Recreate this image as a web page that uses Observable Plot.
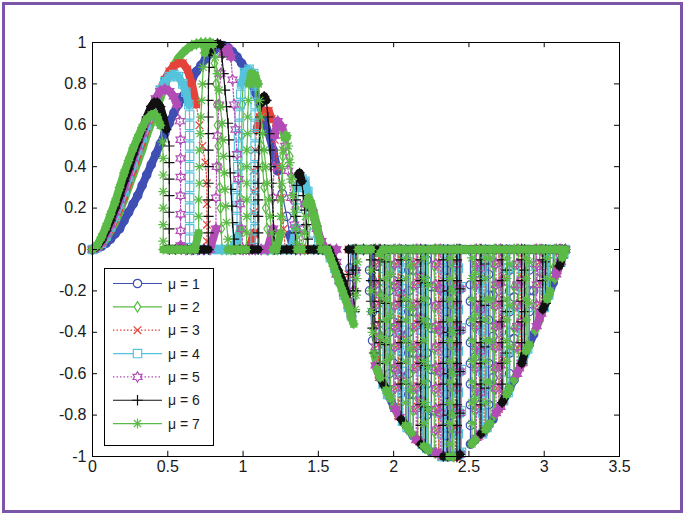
<!DOCTYPE html>
<html><head><meta charset="utf-8">
<script src="https://cdn.jsdelivr.net/npm/d3@7"></script>
<script src="https://cdn.jsdelivr.net/npm/@observablehq/plot@0.6"></script>
<style>
html,body{margin:0;padding:0;background:#fff;}
#wrap{position:relative;width:685px;height:515px;overflow:hidden;background:#fff;}
#border{position:absolute;left:2px;top:2px;width:681px;height:511px;box-sizing:border-box;border:3px solid #7b55a8;pointer-events:none;}
#chart svg{display:block;}
</style></head><body>
<div id="wrap"><div id="chart"></div><div id="border"></div></div>
<script>
const xTicks = [0, 0.5, 1, 1.5, 2, 2.5, 3, 3.5];
const yTicks = [-1, -0.8, -0.6, -0.4, -0.2, 0, 0.2, 0.4, 0.6, 0.8, 1];
const seriesLabels = ["μ = 1", "μ = 2", "μ = 3", "μ = 4", "μ = 5", "μ = 6", "μ = 7"];
const seriesColors = ["#3f4fb3", "#5cba47", "#e4433b", "#56c3dc", "#b24db6", "#111111", "#5cba47"];
const seriesDash = [null, null, "1.5,2", null, "1.5,2", null, null];

// μ = 1
const mu1Pos = [[0,0],[0.03,0.005],[0.06,0.015],[0.09,0.03],[0.12,0.05],[0.15,0.075],[0.18,0.1],[0.21,0.14],[0.24,0.18],[0.27,0.22],[0.3,0.26],[0.33,0.31],[0.36,0.36],[0.39,0.41],[0.42,0.46],[0.45,0.51],[0.48,0.56],[0.51,0.61],[0.54,0.66],[0.57,0.7],[0.6,0.74],[0.63,0.78],[0.66,0.82],[0.69,0.86],[0.72,0.89],[0.75,0.92],[0.78,0.945],[0.81,0.965],[0.84,0.978],[0.87,0.985],[0.9,0.975],[0.93,0.955],[0.96,0.93],[0.99,0.9],[1.02,0.87],[1.05,0.82],[1.08,0.76],[1.11,0.7],[1.14,0.63],[1.17,0.56],[1.2,0.48],[1.23,0.38],[1.26,0.27],[1.29,0.16],[1.31,0.07],[1.33,0.01]];
const mu1Neg = [[1.36,0],[1.4,0],[1.45,0],[1.5,0],[1.55,0],[1.58,-0.03],[1.61,-0.08],[1.64,-0.13],[1.67,-0.19],[1.7,-0.25],[1.71,-0.17],[1.71,-0.09],[1.72,0],[1.78,0],
[1.84,0],[1.84,-0.1],[1.84,-0.2],[1.86,-0.44],[1.86,-0.3],[1.86,-0.15],[1.86,0],
[1.97,0],[1.97,-0.1],[1.97,-0.2],[1.97,-0.3],[1.97,-0.4],[1.97,-0.5],[1.97,-0.6],[1.97,-0.71],[2,-0.76],[2,-0.55],[2,-0.35],[2,-0.15],[2,0],
[2.1,0],[2.1,-0.1],[2.1,-0.2],[2.1,-0.3],[2.1,-0.4],[2.1,-0.5],[2.1,-0.6],[2.1,-0.7],[2.1,-0.87],[2.13,-0.9],[2.13,-0.7],[2.13,-0.5],[2.13,-0.3],[2.13,-0.1],[2.13,0],
[2.22,0],[2.22,-0.05],[2.22,-0.15],[2.22,-0.25],[2.22,-0.35],[2.22,-0.5],[2.22,-0.65],[2.22,-0.8],[2.22,-0.96],[2.25,-0.98],[2.25,-0.78],[2.25,-0.58],[2.25,-0.38],[2.25,-0.18],[2.25,0],
[2.35,0],[2.35,-0.1],[2.35,-0.2],[2.35,-0.3],[2.35,-0.4],[2.35,-0.5],[2.35,-0.6],[2.35,-0.7],[2.35,-0.8],[2.35,-0.9],[2.35,-1],[2.38,-1],[2.38,-0.8],[2.38,-0.6],[2.38,-0.4],[2.38,-0.2],[2.38,0],
[2.51,0],[2.51,-0.17],[2.51,-0.25],[2.51,-0.35],[2.51,-0.45],[2.51,-0.55],[2.51,-0.65],[2.51,-0.75],[2.51,-0.85],[2.51,-0.94],[2.54,-0.92],[2.54,-0.72],[2.54,-0.52],[2.54,-0.32],[2.54,-0.12],[2.54,0],
[2.63,0],[2.63,-0.12],[2.63,-0.22],[2.63,-0.34],[2.63,-0.45],[2.63,-0.55],[2.63,-0.65],[2.63,-0.75],[2.63,-0.85],[2.66,-0.82],[2.66,-0.62],[2.66,-0.42],[2.66,-0.22],[2.66,0],
[2.77,0],[2.77,-0.1],[2.77,-0.2],[2.77,-0.3],[2.77,-0.4],[2.77,-0.5],[2.77,-0.6],[2.77,-0.67],[2.8,-0.63],[2.8,-0.43],[2.8,-0.23],[2.8,0],
[2.9,0],[2.9,-0.1],[2.9,-0.2],[2.9,-0.3],[2.9,-0.46],[2.93,-0.41],[2.93,-0.2],[2.93,0],
[3.03,0],[3.03,-0.1],[3.03,-0.22],[3.06,-0.16],[3.06,0],[3.1,0],[3.14,0]];

// μ = 2
const mu2Pos = [[0,0],[0.03,0.01],[0.06,0.025],[0.09,0.05],[0.12,0.09],[0.15,0.13],[0.18,0.18],[0.21,0.24],[0.24,0.3],[0.27,0.36],[0.3,0.42],[0.33,0.48],[0.36,0.55],[0.39,0.61],[0.42,0.67],[0.45,0.73],[0.48,0.79],[0.51,0.85],[0.54,0.89],[0.57,0.925],[0.6,0.95],[0.63,0.97],[0.66,0.985],[0.69,0.993],[0.72,0.997],[0.75,0.998],[0.78,0.997],[0.8,0.99],[0.81,0.9],[0.82,0.8],[0.825,0.7],[0.83,0.6],[0.835,0.5],[0.84,0.4],[0.845,0.3],[0.85,0.2],[0.855,0.1],[0.86,0],[0.89,0],[0.92,0],[0.95,0],[0.98,0.1],[0.98,0.25],[0.985,0.4],[0.99,0.55],[0.995,0.7],[1,0.82],[1.03,0.86],[1.06,0.84],[1.08,0.8],[1.1,0.7],[1.11,0.6],[1.12,0.5],[1.13,0.4],[1.14,0.3],[1.15,0.2],[1.16,0.1],[1.17,0],[1.2,0],[1.23,0],[1.26,0.15],[1.26,0.3],[1.265,0.45],[1.27,0.56],[1.29,0.54],[1.31,0.45],[1.33,0.33],[1.35,0.2],[1.37,0.08],[1.38,0],[1.41,0],[1.43,0.1],[1.44,0.2],[1.45,0.23],[1.47,0.18],[1.49,0.12],[1.51,0.05],[1.53,0]];
const mu2Neg = [[1.55,0],[1.58,-0.04],[1.61,-0.09],[1.64,-0.15],[1.67,-0.21],[1.7,-0.27],[1.72,-0.31],[1.73,-0.2],[1.74,-0.08],[1.74,0],[1.8,0],
[1.87,0],[1.87,-0.08],[1.87,-0.18],[1.87,-0.28],[1.87,-0.38],[1.87,-0.5],[1.9,-0.6],[1.9,-0.4],[1.9,-0.2],[1.9,0],
[2,0],[2,-0.08],[2,-0.18],[2,-0.28],[2,-0.38],[2,-0.48],[2,-0.58],[2,-0.68],[2,-0.76],[2.03,-0.8],[2.03,-0.6],[2.03,-0.4],[2.03,-0.2],[2.03,0],
[2.13,0],[2.13,-0.08],[2.13,-0.18],[2.13,-0.28],[2.13,-0.38],[2.13,-0.48],[2.13,-0.58],[2.13,-0.68],[2.13,-0.78],[2.13,-0.9],[2.16,-0.92],[2.16,-0.72],[2.16,-0.52],[2.16,-0.32],[2.16,-0.12],[2.16,0],
[2.27,0],[2.27,-0.08],[2.27,-0.18],[2.27,-0.28],[2.27,-0.38],[2.27,-0.48],[2.27,-0.58],[2.27,-0.68],[2.27,-0.78],[2.27,-0.88],[2.27,-0.98],[2.3,-0.99],[2.3,-0.79],[2.3,-0.59],[2.3,-0.39],[2.3,-0.19],[2.3,0],
[2.4,0],[2.4,-0.08],[2.4,-0.18],[2.4,-0.28],[2.4,-0.38],[2.4,-0.48],[2.4,-0.58],[2.4,-0.68],[2.4,-0.78],[2.4,-0.88],[2.4,-1],[2.43,-0.99],[2.43,-0.79],[2.43,-0.59],[2.43,-0.39],[2.43,-0.19],[2.43,0],
[2.54,0],[2.54,-0.08],[2.54,-0.18],[2.54,-0.28],[2.54,-0.38],[2.54,-0.48],[2.54,-0.58],[2.54,-0.68],[2.54,-0.78],[2.54,-0.92],[2.57,-0.9],[2.57,-0.7],[2.57,-0.5],[2.57,-0.3],[2.57,-0.1],[2.57,0],
[2.67,0],[2.67,-0.08],[2.67,-0.18],[2.67,-0.28],[2.67,-0.38],[2.67,-0.48],[2.67,-0.58],[2.67,-0.68],[2.67,-0.8],[2.7,-0.77],[2.7,-0.57],[2.7,-0.37],[2.7,-0.17],[2.7,0],
[2.8,0],[2.8,-0.08],[2.8,-0.18],[2.8,-0.28],[2.8,-0.38],[2.8,-0.48],[2.8,-0.63],[2.83,-0.58],[2.83,-0.38],[2.83,-0.18],[2.83,0],
[2.94,0],[2.94,-0.08],[2.94,-0.18],[2.94,-0.28],[2.94,-0.39],[2.97,-0.34],[2.97,-0.14],[2.97,0],
[3.07,0],[3.07,-0.08],[3.07,-0.14],[3.1,-0.08],[3.1,0],[3.14,0]];

// μ = 3
const mu3Pos = [[0,0],[0.03,0.01],[0.06,0.03],[0.09,0.06],[0.12,0.1],[0.15,0.15],[0.18,0.2],[0.21,0.26],[0.24,0.33],[0.27,0.39],[0.3,0.46],[0.33,0.52],[0.36,0.59],[0.39,0.65],[0.42,0.71],[0.45,0.77],[0.48,0.82],[0.51,0.86],[0.54,0.885],[0.57,0.9],[0.6,0.9],[0.63,0.87],[0.66,0.8],[0.69,0.7],[0.71,0.6],[0.73,0.5],[0.75,0.42],[0.76,0.32],[0.76,0.22],[0.76,0.12],[0.76,0.04],[0.76,0],[0.8,0],[0.84,0],[0.88,0],[0.92,0],[0.96,0],[1,0],[1.04,0],[1.07,0.08],[1.07,0.18],[1.07,0.28],[1.07,0.38],[1.08,0.48],[1.09,0.58],[1.11,0.64],[1.14,0.67],[1.17,0.67],[1.19,0.63],[1.21,0.53],[1.23,0.4],[1.25,0.25],[1.27,0.1],[1.28,0],[1.32,0],[1.36,0],[1.4,0],[1.45,0],[1.5,0]];
const mu3Neg = [[1.55,0],[1.58,-0.03],[1.61,-0.08],[1.64,-0.14],[1.67,-0.2],[1.69,-0.24],[1.7,-0.12],[1.7,0],[1.8,0],
[1.9,0],[1.9,-0.06],[1.9,-0.16],[1.9,-0.26],[1.9,-0.36],[1.9,-0.46],[1.9,-0.6],[1.93,-0.65],[1.93,-0.45],[1.93,-0.25],[1.93,-0.05],[1.93,0],
[2.03,0],[2.03,-0.06],[2.03,-0.16],[2.03,-0.26],[2.03,-0.36],[2.03,-0.46],[2.03,-0.56],[2.03,-0.66],[2.03,-0.8],[2.06,-0.83],[2.06,-0.63],[2.06,-0.43],[2.06,-0.23],[2.06,0],
[2.16,0],[2.16,-0.06],[2.16,-0.16],[2.16,-0.26],[2.16,-0.36],[2.16,-0.46],[2.16,-0.56],[2.16,-0.66],[2.16,-0.76],[2.16,-0.92],[2.19,-0.94],[2.19,-0.74],[2.19,-0.54],[2.19,-0.34],[2.19,-0.14],[2.19,0],
[2.3,0],[2.3,-0.06],[2.3,-0.16],[2.3,-0.26],[2.3,-0.36],[2.3,-0.46],[2.3,-0.56],[2.3,-0.66],[2.3,-0.76],[2.3,-0.86],[2.3,-0.99],[2.32,-1],[2.32,-0.8],[2.32,-0.6],[2.32,-0.4],[2.32,-0.2],[2.32,0],
[2.41,0],[2.41,-0.06],[2.41,-0.16],[2.41,-0.26],[2.41,-0.36],[2.41,-0.46],[2.41,-0.56],[2.41,-0.66],[2.41,-0.76],[2.41,-0.86],[2.41,-1],[2.44,-0.99],[2.44,-0.79],[2.44,-0.59],[2.44,-0.39],[2.44,-0.19],[2.44,0],
[2.57,0],[2.57,-0.06],[2.57,-0.16],[2.57,-0.26],[2.57,-0.36],[2.57,-0.46],[2.57,-0.56],[2.57,-0.66],[2.57,-0.76],[2.57,-0.9],[2.6,-0.88],[2.6,-0.68],[2.6,-0.48],[2.6,-0.28],[2.6,-0.08],[2.6,0],
[2.7,0],[2.7,-0.06],[2.7,-0.16],[2.7,-0.26],[2.7,-0.36],[2.7,-0.46],[2.7,-0.56],[2.7,-0.66],[2.7,-0.77],[2.73,-0.73],[2.73,-0.53],[2.73,-0.33],[2.73,-0.13],[2.73,0],
[2.84,0],[2.84,-0.06],[2.84,-0.16],[2.84,-0.26],[2.84,-0.36],[2.84,-0.46],[2.84,-0.57],[2.86,-0.54],[2.86,-0.34],[2.86,-0.14],[2.86,0],
[2.97,0],[2.97,-0.06],[2.97,-0.16],[2.97,-0.26],[2.97,-0.33],[3,-0.28],[3,-0.08],[3,0],
[3.09,0],[3.09,-0.1],[3.11,-0.06],[3.11,0],[3.14,0]];

// μ = 4
const mu4Pos = [[0,0],[0.03,0.01],[0.06,0.03],[0.09,0.065],[0.12,0.11],[0.15,0.16],[0.18,0.22],[0.21,0.28],[0.24,0.35],[0.27,0.41],[0.3,0.48],[0.33,0.54],[0.36,0.6],[0.39,0.66],[0.42,0.72],[0.45,0.77],[0.48,0.81],[0.51,0.835],[0.54,0.845],[0.57,0.835],[0.6,0.8],[0.62,0.76],[0.64,0.7],[0.645,0.65],[0.645,0.6],[0.645,0.55],[0.645,0.5],[0.645,0.45],[0.645,0.4],[0.645,0.35],[0.645,0.3],[0.645,0.25],[0.645,0.2],[0.645,0.15],[0.645,0.1],[0.645,0.05],[0.645,0],[0.68,0],[0.72,0],[0.76,0],[0.8,0],[0.84,0],[0.88,0],[0.92,0],[0.96,0.05],[0.96,0.1],[0.96,0.15],[0.96,0.2],[0.96,0.25],[0.96,0.3],[0.965,0.35],[0.965,0.4],[0.965,0.45],[0.97,0.5],[0.97,0.55],[0.975,0.6],[0.975,0.65],[0.98,0.7],[0.985,0.75],[0.99,0.8],[1.01,0.855],[1.04,0.87],[1.07,0.85],[1.08,0.8],[1.08,0.75],[1.08,0.7],[1.08,0.65],[1.08,0.6],[1.08,0.55],[1.08,0.5],[1.08,0.45],[1.08,0.4],[1.08,0.35],[1.08,0.3],[1.08,0.25],[1.08,0.2],[1.08,0.15],[1.08,0.1],[1.08,0.05],[1.08,0],[1.12,0],[1.16,0],[1.2,0],[1.24,0],[1.28,0],[1.32,0],[1.35,0.1],[1.36,0.2],[1.37,0.3],[1.39,0.34],[1.41,0.33],[1.43,0.28],[1.45,0.18],[1.47,0.08],[1.48,0],[1.52,0]];
const mu4Neg = [[1.55,0],[1.58,-0.04],[1.61,-0.09],[1.64,-0.15],[1.67,-0.22],[1.7,-0.28],[1.72,-0.32],[1.73,-0.22],[1.74,-0.1],[1.74,0],[1.8,0],
[1.93,0],[1.93,-0.09],[1.93,-0.19],[1.93,-0.29],[1.93,-0.39],[1.93,-0.49],[1.93,-0.65],[1.96,-0.7],[1.96,-0.5],[1.96,-0.3],[1.96,-0.1],[1.96,0],
[2.06,0],[2.06,-0.09],[2.06,-0.19],[2.06,-0.29],[2.06,-0.39],[2.06,-0.49],[2.06,-0.59],[2.06,-0.69],[2.06,-0.83],[2.09,-0.86],[2.09,-0.66],[2.09,-0.46],[2.09,-0.26],[2.09,-0.06],[2.09,0],
[2.19,0],[2.19,-0.09],[2.19,-0.19],[2.19,-0.29],[2.19,-0.39],[2.19,-0.49],[2.19,-0.59],[2.19,-0.69],[2.19,-0.79],[2.19,-0.94],[2.22,-0.96],[2.22,-0.76],[2.22,-0.56],[2.22,-0.36],[2.22,-0.16],[2.22,0],
[2.32,0],[2.32,-0.09],[2.32,-0.19],[2.32,-0.29],[2.32,-0.39],[2.32,-0.49],[2.32,-0.59],[2.32,-0.69],[2.32,-0.79],[2.32,-0.89],[2.32,-1],[2.34,-1],[2.34,-0.8],[2.34,-0.6],[2.34,-0.4],[2.34,-0.2],[2.34,0],
[2.43,0],[2.43,-0.09],[2.43,-0.19],[2.43,-0.29],[2.43,-0.39],[2.43,-0.49],[2.43,-0.59],[2.43,-0.69],[2.43,-0.79],[2.43,-0.89],[2.43,-0.99],[2.45,-0.98],[2.45,-0.78],[2.45,-0.58],[2.45,-0.38],[2.45,-0.18],[2.45,0],
[2.59,0],[2.59,-0.09],[2.59,-0.19],[2.59,-0.29],[2.59,-0.39],[2.59,-0.49],[2.59,-0.59],[2.59,-0.69],[2.59,-0.79],[2.59,-0.89],[2.62,-0.86],[2.62,-0.66],[2.62,-0.46],[2.62,-0.26],[2.62,-0.06],[2.62,0],
[2.73,0],[2.73,-0.09],[2.73,-0.19],[2.73,-0.29],[2.73,-0.39],[2.73,-0.49],[2.73,-0.59],[2.73,-0.73],[2.76,-0.69],[2.76,-0.49],[2.76,-0.29],[2.76,-0.09],[2.76,0],
[2.86,0],[2.86,-0.09],[2.86,-0.19],[2.86,-0.29],[2.86,-0.39],[2.86,-0.54],[2.89,-0.48],[2.89,-0.28],[2.89,-0.08],[2.89,0],
[3,0],[3,-0.09],[3,-0.19],[3,-0.28],[3.03,-0.22],[3.03,-0.02],[3.03,0],
[3.11,0],[3.11,-0.06],[3.13,-0.02],[3.14,0]];

// μ = 5
const mu5Pos = [[0,0],[0.03,0.01],[0.06,0.035],[0.09,0.075],[0.12,0.12],[0.15,0.18],[0.18,0.24],[0.21,0.3],[0.24,0.37],[0.27,0.44],[0.3,0.5],[0.33,0.56],[0.36,0.62],[0.39,0.68],[0.42,0.73],[0.45,0.765],[0.48,0.775],[0.51,0.765],[0.54,0.74],[0.56,0.7],[0.58,0.62],[0.585,0.53],[0.585,0.44],[0.585,0.35],[0.585,0.26],[0.585,0.17],[0.585,0.09],[0.585,0.02],[0.62,0],[0.66,0],[0.7,0],[0.74,0],[0.78,0],[0.82,0.1],[0.82,0.25],[0.825,0.4],[0.83,0.55],[0.84,0.7],[0.85,0.85],[0.87,0.95],[0.9,0.97],[0.92,0.93],[0.93,0.82],[0.94,0.7],[0.95,0.58],[0.96,0.46],[0.97,0.34],[0.98,0.22],[0.99,0.1],[1,0],[1.04,0],[1.08,0],[1.12,0],[1.16,0],[1.2,0.1],[1.2,0.25],[1.205,0.4],[1.21,0.55],[1.23,0.62],[1.26,0.59],[1.28,0.5],[1.3,0.38],[1.32,0.25],[1.34,0.12],[1.35,0],[1.38,0],[1.4,0.1],[1.41,0.22],[1.43,0.24],[1.46,0.18],[1.49,0.1],[1.52,0.04],[1.55,0]];
const mu5Neg = [[1.58,0],[1.62,0],[1.62,-0.06],[1.62,-0.12],[1.64,-0.15],[1.67,-0.21],[1.7,-0.27],[1.72,-0.31],[1.735,-0.2],[1.745,-0.1],[1.75,0],[1.8,0],
[1.88,0],[1.88,-0.07],[1.88,-0.17],[1.88,-0.27],[1.88,-0.37],[1.88,-0.47],[1.88,-0.56],[1.91,-0.62],[1.91,-0.42],[1.91,-0.22],[1.91,-0.02],[1.91,0],
[2.01,0],[2.01,-0.07],[2.01,-0.17],[2.01,-0.27],[2.01,-0.37],[2.01,-0.47],[2.01,-0.57],[2.01,-0.67],[2.01,-0.77],[2.04,-0.81],[2.04,-0.61],[2.04,-0.41],[2.04,-0.21],[2.04,0],
[2.15,0],[2.15,-0.07],[2.15,-0.17],[2.15,-0.27],[2.15,-0.37],[2.15,-0.47],[2.15,-0.57],[2.15,-0.67],[2.15,-0.77],[2.15,-0.92],[2.18,-0.93],[2.18,-0.73],[2.18,-0.53],[2.18,-0.33],[2.18,-0.13],[2.18,0],
[2.28,0],[2.28,-0.07],[2.28,-0.17],[2.28,-0.27],[2.28,-0.37],[2.28,-0.47],[2.28,-0.57],[2.28,-0.67],[2.28,-0.77],[2.28,-0.87],[2.28,-0.98],[2.31,-0.99],[2.31,-0.79],[2.31,-0.59],[2.31,-0.39],[2.31,-0.19],[2.31,0],
[2.42,0],[2.42,-0.07],[2.42,-0.17],[2.42,-0.27],[2.42,-0.37],[2.42,-0.47],[2.42,-0.57],[2.42,-0.67],[2.42,-0.77],[2.42,-0.87],[2.42,-1],[2.44,-0.99],[2.44,-0.79],[2.44,-0.59],[2.44,-0.39],[2.44,-0.19],[2.44,0],
[2.55,0],[2.55,-0.07],[2.55,-0.17],[2.55,-0.27],[2.55,-0.37],[2.55,-0.47],[2.55,-0.57],[2.55,-0.67],[2.55,-0.77],[2.55,-0.91],[2.58,-0.89],[2.58,-0.69],[2.58,-0.49],[2.58,-0.29],[2.58,-0.09],[2.58,0],
[2.68,0],[2.68,-0.07],[2.68,-0.17],[2.68,-0.27],[2.68,-0.37],[2.68,-0.47],[2.68,-0.57],[2.68,-0.67],[2.68,-0.79],[2.71,-0.76],[2.71,-0.56],[2.71,-0.36],[2.71,-0.16],[2.71,0],
[2.82,0],[2.82,-0.07],[2.82,-0.17],[2.82,-0.27],[2.82,-0.37],[2.82,-0.47],[2.82,-0.6],[2.85,-0.55],[2.85,-0.35],[2.85,-0.15],[2.85,0],
[2.95,0],[2.95,-0.07],[2.95,-0.17],[2.95,-0.27],[2.95,-0.37],[2.98,-0.31],[2.98,-0.11],[2.98,0],
[3.08,0],[3.08,-0.12],[3.11,-0.06],[3.11,0],[3.14,0]];

// μ = 6
const mu6Pos = [[0,0],[0.03,0.015],[0.06,0.045],[0.09,0.09],[0.12,0.14],[0.15,0.2],[0.18,0.26],[0.21,0.33],[0.24,0.39],[0.27,0.46],[0.3,0.52],[0.33,0.58],[0.36,0.64],[0.39,0.69],[0.41,0.71],[0.43,0.71],[0.45,0.69],[0.47,0.64],[0.49,0.58],[0.51,0.5],[0.51,0.42],[0.51,0.34],[0.51,0.26],[0.51,0.18],[0.51,0.1],[0.51,0.02],[0.51,0],[0.55,0],[0.59,0],[0.63,0],[0.67,0],[0.71,0],[0.74,0],[0.77,0],[0.77,0.08],[0.77,0.16],[0.77,0.24],[0.77,0.32],[0.77,0.4],[0.77,0.48],[0.77,0.56],[0.77,0.64],[0.77,0.72],[0.77,0.8],[0.775,0.88],[0.78,0.95],[0.8,0.99],[0.83,0.995],[0.85,0.99],[0.86,0.93],[0.87,0.85],[0.88,0.77],[0.89,0.69],[0.9,0.61],[0.905,0.53],[0.91,0.45],[0.915,0.37],[0.92,0.29],[0.925,0.21],[0.93,0.13],[0.94,0.05],[0.94,0],[0.98,0],[1.02,0],[1.06,0],[1.1,0],[1.1,0.08],[1.1,0.16],[1.1,0.24],[1.1,0.32],[1.1,0.4],[1.105,0.48],[1.11,0.56],[1.115,0.64],[1.125,0.71],[1.14,0.74],[1.155,0.72],[1.165,0.64],[1.175,0.56],[1.18,0.48],[1.185,0.4],[1.19,0.32],[1.195,0.24],[1.2,0.16],[1.205,0.08],[1.21,0],[1.25,0],[1.29,0],[1.32,0],[1.35,0],[1.35,0.08],[1.35,0.16],[1.35,0.24],[1.355,0.31],[1.365,0.36],[1.375,0.37],[1.39,0.33],[1.4,0.26],[1.41,0.19],[1.42,0.12],[1.43,0.05],[1.43,0],[1.47,0],[1.5,0]];
const mu6Neg = [[1.53,0],[1.57,0],[1.6,-0.05],[1.63,-0.1],[1.66,-0.15],[1.69,-0.22],[1.7,-0.12],[1.7,0],[1.73,0],[1.73,-0.1],[1.73,-0.2],[1.74,-0.3],[1.75,-0.2],[1.75,-0.1],[1.75,0],[1.8,0],
[1.85,0],[1.85,-0.05],[1.85,-0.15],[1.85,-0.25],[1.86,-0.38],[1.87,-0.5],[1.87,-0.3],[1.87,-0.1],[1.87,0],
[1.91,0],[1.91,-0.05],[1.91,-0.15],[1.91,-0.25],[1.91,-0.35],[1.91,-0.45],[1.91,-0.55],[1.91,-0.62],[1.94,-0.66],[1.94,-0.46],[1.94,-0.26],[1.94,-0.06],[1.94,0],
[2.05,0],[2.05,-0.05],[2.05,-0.15],[2.05,-0.25],[2.05,-0.35],[2.05,-0.45],[2.05,-0.55],[2.05,-0.65],[2.05,-0.82],[2.08,-0.85],[2.08,-0.65],[2.08,-0.45],[2.08,-0.25],[2.08,-0.05],[2.08,0],
[2.18,0],[2.18,-0.05],[2.18,-0.15],[2.18,-0.25],[2.18,-0.35],[2.18,-0.45],[2.18,-0.55],[2.18,-0.65],[2.18,-0.75],[2.18,-0.85],[2.18,-0.94],[2.21,-0.96],[2.21,-0.76],[2.21,-0.56],[2.21,-0.36],[2.21,-0.16],[2.21,0],
[2.33,0],[2.33,-0.05],[2.33,-0.15],[2.33,-0.25],[2.33,-0.35],[2.33,-0.45],[2.33,-0.55],[2.33,-0.65],[2.33,-0.75],[2.33,-0.85],[2.33,-1],[2.36,-1],[2.36,-0.8],[2.36,-0.6],[2.36,-0.4],[2.36,-0.2],[2.36,0],
[2.42,0],[2.42,-0.05],[2.42,-0.15],[2.42,-0.25],[2.42,-0.35],[2.42,-0.45],[2.42,-0.55],[2.42,-0.65],[2.42,-0.75],[2.42,-0.85],[2.42,-1],[2.44,-0.99],[2.44,-0.79],[2.44,-0.59],[2.44,-0.39],[2.44,-0.19],[2.44,0],
[2.58,0],[2.58,-0.05],[2.58,-0.15],[2.58,-0.25],[2.58,-0.35],[2.58,-0.45],[2.58,-0.55],[2.58,-0.65],[2.58,-0.75],[2.58,-0.89],[2.61,-0.87],[2.61,-0.67],[2.61,-0.47],[2.61,-0.27],[2.61,-0.07],[2.61,0],
[2.72,0],[2.72,-0.05],[2.72,-0.15],[2.72,-0.25],[2.72,-0.35],[2.72,-0.45],[2.72,-0.55],[2.72,-0.65],[2.72,-0.74],[2.75,-0.7],[2.75,-0.5],[2.75,-0.3],[2.75,-0.1],[2.75,0],
[2.85,0],[2.85,-0.05],[2.85,-0.15],[2.85,-0.25],[2.85,-0.35],[2.85,-0.45],[2.85,-0.55],[2.87,-0.5],[2.87,-0.3],[2.87,-0.1],[2.87,0],
[2.99,0],[2.99,-0.05],[2.99,-0.15],[2.99,-0.29],[3.01,-0.26],[3.01,-0.06],[3.01,0],
[3.1,0],[3.1,-0.08],[3.12,-0.04],[3.12,0],[3.14,0]];

// μ = 7
const mu7Pos = [[0,0],[0.03,0.02],[0.06,0.06],[0.09,0.11],[0.12,0.17],[0.15,0.23],[0.18,0.3],[0.21,0.37],[0.24,0.43],[0.27,0.49],[0.3,0.54],[0.33,0.59],[0.36,0.63],[0.39,0.65],[0.41,0.655],[0.43,0.64],[0.45,0.6],[0.465,0.52],[0.47,0.44],[0.47,0.36],[0.47,0.28],[0.47,0.2],[0.47,0.12],[0.47,0.04],[0.47,0],[0.5,0],[0.53,0],[0.56,0],[0.59,0],[0.62,0],[0.65,0],[0.68,0],[0.705,0.08],[0.705,0.16],[0.705,0.24],[0.71,0.32],[0.71,0.4],[0.71,0.48],[0.715,0.56],[0.72,0.64],[0.725,0.72],[0.73,0.8],[0.735,0.88],[0.745,0.95],[0.76,0.99],[0.78,1],[0.8,0.99],[0.815,0.93],[0.83,0.85],[0.84,0.77],[0.85,0.69],[0.86,0.61],[0.865,0.53],[0.87,0.45],[0.875,0.37],[0.88,0.29],[0.885,0.21],[0.89,0.13],[0.9,0.05],[0.9,0],[0.93,0],[0.96,0],[0.99,0],[1.02,0],[1.025,0.08],[1.025,0.16],[1.025,0.24],[1.025,0.32],[1.025,0.4],[1.025,0.48],[1.03,0.56],[1.03,0.64],[1.035,0.72],[1.04,0.8],[1.055,0.85],[1.08,0.84],[1.1,0.8],[1.11,0.72],[1.12,0.64],[1.13,0.56],[1.14,0.48],[1.15,0.4],[1.16,0.32],[1.17,0.24],[1.18,0.16],[1.19,0.08],[1.2,0],[1.22,0],[1.25,0.08],[1.25,0.16],[1.25,0.24],[1.255,0.32],[1.26,0.4],[1.265,0.48],[1.275,0.54],[1.29,0.55],[1.3,0.5],[1.31,0.42],[1.32,0.34],[1.33,0.26],[1.34,0.18],[1.35,0.1],[1.36,0.03],[1.36,0],[1.39,0],[1.41,0.08],[1.415,0.16],[1.42,0.22],[1.435,0.25],[1.45,0.22],[1.47,0.16],[1.49,0.1],[1.51,0.04],[1.52,0]];
const mu7Neg = [[1.54,0],[1.56,0],[1.58,-0.04],[1.6,-0.08],[1.62,-0.12],[1.64,-0.16],[1.66,-0.2],[1.68,-0.24],[1.7,-0.28],[1.72,-0.33],[1.735,-0.36],[1.745,-0.29],[1.75,-0.22],[1.755,-0.14],[1.76,-0.06],[1.765,0],[1.79,0],[1.82,0],
[1.85,0],[1.85,-0.1],[1.85,-0.2],[1.85,-0.3],[1.86,-0.4],[1.87,-0.5],[1.89,-0.58],[1.91,-0.62],[1.91,-0.42],[1.91,-0.22],[1.91,-0.02],[1.93,0],
[1.95,0],[1.95,-0.04],[1.95,-0.14],[1.95,-0.24],[1.95,-0.34],[1.95,-0.44],[1.95,-0.54],[1.95,-0.68],[1.98,-0.72],[1.98,-0.52],[1.98,-0.32],[1.98,-0.12],[1.98,0],[2.01,0],[2.04,0],
[2.08,0],[2.08,-0.04],[2.08,-0.14],[2.08,-0.24],[2.08,-0.34],[2.08,-0.44],[2.08,-0.54],[2.08,-0.64],[2.08,-0.74],[2.08,-0.85],[2.11,-0.88],[2.11,-0.68],[2.11,-0.48],[2.11,-0.28],[2.11,-0.08],[2.11,0],[2.14,0],[2.17,0],
[2.2,0],[2.2,-0.04],[2.2,-0.14],[2.2,-0.24],[2.2,-0.34],[2.2,-0.44],[2.2,-0.54],[2.2,-0.64],[2.2,-0.74],[2.2,-0.84],[2.2,-0.95],[2.23,-0.97],[2.23,-0.77],[2.23,-0.57],[2.23,-0.37],[2.23,-0.17],[2.23,0],[2.26,0],[2.29,0],[2.32,0],
[2.37,0],[2.37,-0.04],[2.37,-0.14],[2.37,-0.24],[2.37,-0.34],[2.37,-0.44],[2.37,-0.54],[2.37,-0.64],[2.37,-0.74],[2.37,-0.84],[2.37,-0.94],[2.37,-1],[2.39,-1],[2.39,-0.8],[2.39,-0.6],[2.39,-0.4],[2.39,-0.2],[2.39,0],[2.42,0],[2.45,0],[2.48,0],
[2.52,0],[2.52,-0.04],[2.52,-0.14],[2.52,-0.24],[2.52,-0.34],[2.52,-0.44],[2.52,-0.54],[2.52,-0.64],[2.52,-0.74],[2.52,-0.84],[2.52,-0.94],[2.54,-0.92],[2.54,-0.72],[2.54,-0.52],[2.54,-0.32],[2.54,-0.12],[2.54,0],[2.57,0],
[2.61,0],[2.61,-0.04],[2.61,-0.14],[2.61,-0.24],[2.61,-0.34],[2.61,-0.44],[2.61,-0.54],[2.61,-0.64],[2.61,-0.74],[2.61,-0.87],[2.64,-0.84],[2.64,-0.64],[2.64,-0.44],[2.64,-0.24],[2.64,-0.04],[2.64,0],[2.67,0],[2.7,0],
[2.75,0],[2.75,-0.04],[2.75,-0.14],[2.75,-0.24],[2.75,-0.34],[2.75,-0.44],[2.75,-0.54],[2.75,-0.7],[2.77,-0.67],[2.77,-0.47],[2.77,-0.27],[2.77,-0.07],[2.77,0],[2.8,0],[2.83,0],
[2.88,0],[2.88,-0.04],[2.88,-0.14],[2.88,-0.24],[2.88,-0.34],[2.88,-0.49],[2.9,-0.46],[2.9,-0.26],[2.9,-0.06],[2.9,0],[2.93,0],[2.96,0],[2.99,0],
[3.02,0],[3.02,-0.04],[3.02,-0.14],[3.02,-0.24],[3.04,-0.2],[3.04,0],[3.07,0],[3.1,0],
[3.12,0],[3.12,-0.04],[3.13,-0.02],[3.14,0]];

const seriesData = [
  mu1Pos.concat(mu1Neg), mu2Pos.concat(mu2Neg), mu3Pos.concat(mu3Neg),
  mu4Pos.concat(mu4Neg), mu5Pos.concat(mu5Neg), mu6Pos.concat(mu6Neg), mu7Pos.concat(mu7Neg)
];

// Gently sloped stretches of each curve are so densely sampled that their markers
// merge into a solid band; steep stretches show as stacked single markers.
const steepLimit = 3.6; // slope (data units) above which a stretch is drawn as a stem
function bandSegments(data) {
  const segs = [];
  for (let k = 1; k < data.length; k++) {
    const a = data[k - 1], b = data[k];
    if (Math.abs(b[1] - a[1]) < steepLimit * Math.abs(b[0] - a[0])) segs.push({x1: a[0], y1: a[1], x2: b[0], y2: b[1]});
  }
  return segs;
}

// MATLAB-like marker shapes
const TAU = 2 * Math.PI;
const symCircle = {draw(c) { c.moveTo(4.2, 0); c.arc(0, 0, 4.2, 0, TAU); }};
const symDiamond = {draw(c) { c.moveTo(0, -5.2); c.lineTo(3.3, 0); c.lineTo(0, 5.2); c.lineTo(-3.3, 0); c.closePath(); }};
const symTimes = {draw(c) { const r = 3.8; c.moveTo(-r, -r); c.lineTo(r, r); c.moveTo(-r, r); c.lineTo(r, -r); }};
const symSquare = {draw(c) { c.rect(-4.2, -4.2, 8.4, 8.4); }};
const symHexagram = {draw(c) {
  for (let i = 0; i < 12; i++) {
    const a = i * Math.PI / 6 - Math.PI / 2, rr = i % 2 ? 3 : 5.2;
    const px = rr * Math.cos(a), py = rr * Math.sin(a);
    if (i) c.lineTo(px, py); else c.moveTo(px, py);
  }
  c.closePath();
}};
const symPlus = {draw(c) { const r = 5.2; c.moveTo(-r, 0); c.lineTo(r, 0); c.moveTo(0, -r); c.lineTo(0, r); }};
const symAsterisk = {draw(c) {
  const r = 5, d = 3.6;
  c.moveTo(-r, 0); c.lineTo(r, 0); c.moveTo(0, -r); c.lineTo(0, r);
  c.moveTo(-d, -d); c.lineTo(d, d); c.moveTo(-d, d); c.lineTo(d, -d);
}};
const seriesSymbols = [symCircle, symDiamond, symTimes, symSquare, symHexagram, symPlus, symAsterisk];

const seriesMarks = [];
seriesData.forEach((data, i) => {
  seriesMarks.push(Plot.link(bandSegments(data), {x1: "x1", y1: "y1", x2: "x2", y2: "y2", stroke: seriesColors[i], strokeWidth: 8, strokeLinecap: "round"}));
  seriesMarks.push(Plot.line(data, {x: d => d[0], y: d => d[1], stroke: seriesColors[i], strokeWidth: 1.2, strokeDasharray: seriesDash[i]}));
  seriesMarks.push(Plot.dot(data, {x: d => d[0], y: d => d[1], stroke: seriesColors[i], fill: "none", strokeWidth: 1.2, symbol: seriesSymbols[i], r: 4}));
});

const fmt = d => String(d);
const plot = Plot.plot({
  width: 685, height: 515,
  marginLeft: 92, marginRight: 66, marginTop: 42, marginBottom: 59,
  x: {domain: [0, 3.5]},
  y: {domain: [-1, 1]},
  style: {fontFamily: "'Liberation Sans', Arial, sans-serif", fontSize: "16px", color: "#1a1a1a", background: "white"},
  marks: [
    ...seriesMarks,
    Plot.frame({stroke: "black", strokeWidth: 1}),
    Plot.ruleX(xTicks, {x: d => d, y1: -1, y2: -0.975, stroke: "black"}),
    Plot.ruleX(xTicks, {x: d => d, y1: 1, y2: 0.975, stroke: "black"}),
    Plot.ruleY(yTicks, {y: d => d, x1: 0, x2: 0.033, stroke: "black"}),
    Plot.ruleY(yTicks, {y: d => d, x1: 3.5, x2: 3.467, stroke: "black"}),
    Plot.axisX(xTicks, {tickSize: 0, tickPadding: 4, tickFormat: fmt, label: null}),
    Plot.axisY(yTicks, {tickSize: 0, tickPadding: 6, tickFormat: fmt, label: null})
  ]
});

// Legend (inside the axes, lower left)
const svg = d3.select(plot);
const lg = svg.append("g").attr("font-family", "'Liberation Sans', Arial, sans-serif").attr("font-size", 14).attr("text-anchor", "start");
lg.append("rect").attr("x", 104.5).attr("y", 268.5).attr("width", 109).attr("height", 177)
  .attr("fill", "white").attr("stroke", "black").attr("stroke-width", 1);
seriesLabels.forEach((lab, i) => {
  const yy = 283.5 + i * 23.35;
  lg.append("line").attr("x1", 113).attr("x2", 162).attr("y1", yy).attr("y2", yy)
    .attr("stroke", seriesColors[i]).attr("stroke-width", 1.2)
    .attr("stroke-dasharray", seriesDash[i]);
  lg.append("path").attr("d", d3.symbol(seriesSymbols[i], 50)())
    .attr("transform", `translate(137.5,${yy})`)
    .attr("fill", "white").attr("stroke", seriesColors[i]).attr("stroke-width", 1.2);
  lg.append("text").attr("x", 168).attr("y", yy).attr("dy", "0.36em").attr("text-anchor", "start").attr("fill", "#1a1a1a").text(lab);
});

document.getElementById("chart").appendChild(plot);
</script>
</body></html>
